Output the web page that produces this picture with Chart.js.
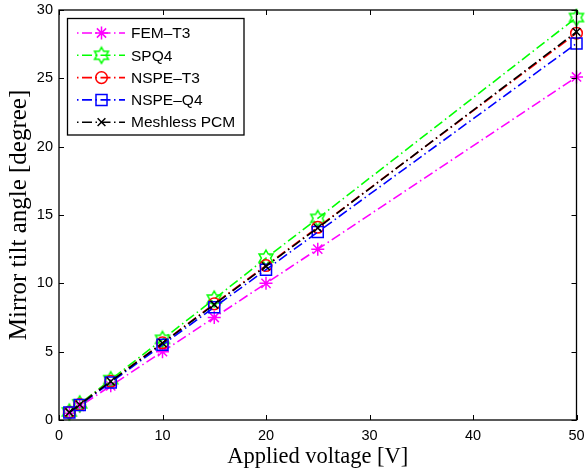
<!DOCTYPE html>
<html>
<head>
<meta charset="utf-8">
<script src="https://cdn.jsdelivr.net/npm/chart.js@4.4.1/dist/chart.umd.min.js"></script>
<style>
  html, body { margin: 0; padding: 0; background: #fff; overflow: hidden; }
  #wrap { width: 586px; height: 471px; position: relative; }
</style>
</head>
<body>
<div id="wrap"><canvas id="chart"></canvas></div>
<script>
// values
const voltage  = [1, 2, 5, 10, 15, 20, 25, 50];
const femT3    = [0.50, 1.00, 2.50, 5.00, 7.50, 10.00, 12.50, 25.1];
const spq4     = [0.59, 1.18, 2.95, 5.90, 8.85, 11.85, 14.75, 29.45];
const nspeT3   = [0.57, 1.13, 2.83, 5.65, 8.50, 11.30, 14.10, 28.3];
const nspeQ4   = [0.55, 1.10, 2.75, 5.50, 8.25, 11.00, 13.75, 27.55];
const meshless = [0.565, 1.13, 2.82, 5.63, 8.45, 11.25, 14.05, 28.4];

const seriesNames = ['FEM\u2013T3', 'SPQ4', 'NSPE\u2013T3', 'NSPE\u2013Q4', 'Meshless PCM'];
const xTicks = [0, 10, 20, 30, 40, 50];
const yTicks = [0, 5, 10, 15, 20, 25, 30];

const DASH_DOT = [10, 3.5, 1.5, 3.5];

// MATLAB-like hexagram marker
function hexagram(color) {
    const c = document.createElement('canvas');
    c.width = 20; c.height = 20;
    const g = c.getContext('2d');
    const R = 8, r = R / Math.sqrt(3);
    g.beginPath();
    for (let i = 0; i < 12; i++) {
        const a = -Math.PI / 2 + i * Math.PI / 6;
        const rad = i % 2 === 0 ? R : r;
        const px = 10 + rad * Math.cos(a), py = 10 + rad * Math.sin(a);
        if (i === 0) g.moveTo(px, py); else g.lineTo(px, py);
    }
    g.closePath();
    g.strokeStyle = color;
    g.lineWidth = 1.5;
    g.stroke();
    return c;
}

const pts = (ys) => voltage.map((v, i) => ({ x: v, y: ys[i] }));

const styles = [
    { color: '#ff00ff', pointStyle: 'star', radius: 6.5 },
    { color: '#00ff00', pointStyle: hexagram('#00ff00'), radius: 8 },
    { color: '#ff0000', pointStyle: 'circle', radius: 5.8 },
    { color: '#0000ff', pointStyle: 'rect', radius: 7.8 },
    { color: '#000000', pointStyle: 'crossRot', radius: 5.5 }
];
const allSeries = [femT3, spq4, nspeT3, nspeQ4, meshless];

const datasets = allSeries.map((ys, i) => ({
    label: seriesNames[i],
    data: pts(ys),
    borderColor: styles[i].color,
    backgroundColor: 'rgba(0,0,0,0)',
    borderWidth: 1.6,
    borderDash: DASH_DOT,
    pointStyle: styles[i].pointStyle,
    pointRadius: styles[i].radius,
    pointBorderWidth: 1.5,
    pointBorderColor: styles[i].color,
    pointBackgroundColor: 'rgba(0,0,0,0)',
    tension: 0,
    clip: false,
    order: allSeries.length - i
}));

// box + inward ticks on all four sides
const frame = {
    id: 'frame',
    afterDatasetsDraw(chart) {
        const { ctx, chartArea: a, scales } = chart;
        ctx.save();
        ctx.strokeStyle = '#000';
        ctx.lineWidth = 1.3;
        ctx.setLineDash([]);
        ctx.strokeRect(a.left, a.top, a.right - a.left, a.bottom - a.top);
        const L = 5;
        ctx.lineWidth = 1;
        ctx.beginPath();
        xTicks.forEach(v => {
            const x = Math.round(scales.x.getPixelForValue(v)) + 0.5;
            ctx.moveTo(x, a.bottom); ctx.lineTo(x, a.bottom - L);
            ctx.moveTo(x, a.top); ctx.lineTo(x, a.top + L);
        });
        yTicks.forEach(v => {
            const y = Math.round(scales.y.getPixelForValue(v)) + 0.5;
            ctx.moveTo(a.left, y); ctx.lineTo(a.left + L, y);
            ctx.moveTo(a.right, y); ctx.lineTo(a.right - L, y);
        });
        ctx.stroke();
        ctx.restore();
    }
};

// legend box in the upper left, line sample + marker like MATLAB
const boxLegend = {
    id: 'boxLegend',
    afterDraw(chart) {
        const { ctx } = chart;
        const bx = 67.5, by = 18.5, bw = 176.5, bh = 116.5;
        ctx.save();
        ctx.fillStyle = '#fff';
        ctx.fillRect(bx, by, bw, bh);
        ctx.strokeStyle = '#000';
        ctx.lineWidth = 1.3;
        ctx.strokeRect(bx, by, bw, bh);
        ctx.font = '15.5px "Liberation Sans", Arial, sans-serif';
        ctx.textBaseline = 'middle';
        chart.data.datasets.forEach((ds, i) => {
            const y = 33 + i * 22.3;
            ctx.save();
            ctx.strokeStyle = ds.borderColor;
            ctx.lineWidth = 1.6;
            ctx.setLineDash(DASH_DOT);
            ctx.lineDashOffset = 13.5;
            ctx.beginPath();
            ctx.moveTo(77, y); ctx.lineTo(125, y);
            ctx.stroke();
            ctx.restore();
            ctx.save();
            ctx.setLineDash([]);
            ctx.fillStyle = 'rgba(0,0,0,0)';
            ctx.strokeStyle = ds.borderColor;
            ctx.lineWidth = ds.pointBorderWidth;
            Chart.helpers.drawPoint(ctx, {
                pointStyle: ds.pointStyle,
                radius: ds.pointRadius,
                borderWidth: ds.pointBorderWidth,
                rotation: 0
            }, 101.5, y);
            ctx.restore();
            ctx.fillStyle = '#000';
            ctx.fillText(ds.label, 131, y + 1);
        });
        ctx.restore();
    }
};

new Chart(document.getElementById('chart'), {
    type: 'line',
    data: { datasets },
    options: {
        responsive: true,
        maintainAspectRatio: false,
        animation: false,
        layout: { padding: { left: 0, right: 5.5, top: 10, bottom: 0 } },
        plugins: { legend: { display: false }, tooltip: { enabled: false } },
        scales: {
            x: {
                type: 'linear', min: 0, max: 50,
                grid: { display: false, drawTicks: false },
                border: { display: false },
                ticks: {
                    stepSize: 10, padding: 7, color: '#000',
                    maxRotation: 0,
                    font: { family: '"Liberation Sans", Arial, sans-serif', size: 14.5 }
                },
                title: {
                    display: true, text: 'Applied voltage [V]', color: '#000',
                    padding: { top: 0, bottom: 0 },
                    font: { family: '"Liberation Serif", "Times New Roman", serif', size: 22.5 }
                },
                afterFit(s) { s.height = 51; s.paddingLeft = 0; s.paddingRight = 0; }
            },
            y: {
                type: 'linear', min: 0, max: 30,
                grid: { display: false, drawTicks: false },
                border: { display: false },
                ticks: {
                    stepSize: 5, padding: 6, color: '#000',
                    font: { family: '"Liberation Sans", Arial, sans-serif', size: 14.5 }
                },
                title: {
                    display: true, text: 'Mirror tilt angle [degree]', color: '#000',
                    padding: { top: 4, bottom: 0 },
                    font: { family: '"Liberation Serif", "Times New Roman", serif', size: 25 }
                },
                afterFit(s) { s.width = 59; s.paddingTop = 0; s.paddingBottom = 0; }
            }
        }
    },
    plugins: [frame, boxLegend]
});
</script>
</body>
</html>
